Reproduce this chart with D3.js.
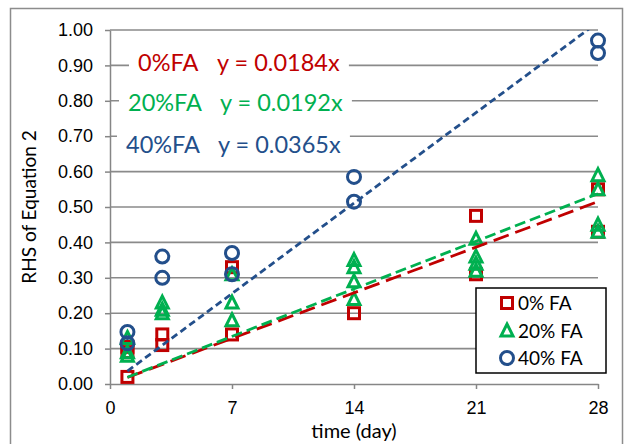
<!DOCTYPE html>
<html>
<head>
<meta charset="utf-8">
<script src="https://cdn.jsdelivr.net/npm/d3@7"></script>
<style>
	body { margin: 0; background: #fff; }
	svg { display: block; font-family: Lato, "Liberation Sans", sans-serif; }
	.axis path, .axis line { stroke: #868686; stroke-width: 1.5; }
	.axis text { fill: #000; font-size: 18px; }
	.grid line { stroke: #8a8a8a; stroke-width: 1.6; }
</style>
</head>
<body>
<svg id="chart" width="627" height="444"></svg>
<script>
/*  RHS of equation 2 against curing time, three fly ash contents  */

var xTicks = [0, 7, 14, 21, 28],
	yTicks = [0, 0.1, 0.2, 0.3, 0.4, 0.5, 0.6, 0.7, 0.8, 0.9, 1.0];

var seriesNames = ['0% FA', '20% FA', '40% FA'],
	labelNames = ['0%FA', '20%FA', '40%FA'],
	slopes = [0.0184, 0.0192, 0.0365],
	colors = ['#c00000', '#00b050', '#234f8b'];

// [day, value] pairs
var fa0 = [[1, 0.02], [1, 0.105], [1, 0.09], [3, 0.14], [3, 0.11],
	[7, 0.33], [7, 0.14], [14, 0.20], [21, 0.475], [21, 0.31],
	[28, 0.55], [28, 0.43]];
var fa20 = [[1, 0.13], [1, 0.09], [1, 0.08], [3, 0.23], [3, 0.21], [3, 0.20],
	[7, 0.31], [7, 0.23], [7, 0.18], [14, 0.35], [14, 0.33], [14, 0.29], [14, 0.24],
	[21, 0.41], [21, 0.36], [21, 0.34], [21, 0.32],
	[28, 0.59], [28, 0.55], [28, 0.45], [28, 0.43]];
var fa40 = [[1, 0.147], [1, 0.115], [3, 0.36], [3, 0.30], [7, 0.37], [7, 0.31],
	[14, 0.585], [14, 0.515], [28, 0.97], [28, 0.935]];

var trendStart = 1, trendEnd = 28;

//- - - - - - - - - - - - - - - - - - - - - - - - - - - - - - - - - - - - - - - 

var svg = d3.select('#chart'),
	plot = { left: 110, right: 598, top: 30, bottom: 384 };

var x = d3.scaleLinear().domain([0, 28]).range([plot.left, plot.right]),
	y = d3.scaleLinear().domain([0, 1]).range([plot.bottom, plot.top]);

// chart frame
svg.append('rect')
	.attr('x', 10.5).attr('y', 8.5)
	.attr('width', 612).attr('height', 460)
	.attr('fill', 'none')
	.attr('stroke', '#8c8c8c')
	.attr('stroke-width', 1.5);

svg.append('clipPath').attr('id', 'plot')
	.append('rect')
	.attr('x', plot.left).attr('y', plot.top)
	.attr('width', plot.right - plot.left).attr('height', plot.bottom - plot.top);

// horizontal gridlines
svg.append('g').attr('class', 'grid')
	.selectAll('line')
	.data(yTicks.slice(1))
	.enter().append('line')
	.attr('x1', plot.left).attr('x2', plot.right)
	.attr('y1', function (d) { return y(d); })
	.attr('y2', function (d) { return y(d); });

svg.append('g').attr('class', 'axis')
	.attr('transform', 'translate(0,' + plot.bottom + ')')
	.call(d3.axisBottom(x).tickValues(xTicks).tickSize(5).tickSizeOuter(0).tickPadding(12));

svg.append('g').attr('class', 'axis')
	.attr('transform', 'translate(' + plot.left + ',0)')
	.call(d3.axisLeft(y).tickValues(yTicks).tickFormat(d3.format('.2f'))
		.tickSize(5).tickSizeOuter(0).tickPadding(12));

// axis titles
svg.append('text')
	.attr('x', 354).attr('y', 438)
	.attr('text-anchor', 'middle')
	.attr('font-size', 20)
	.text('time (day)');

svg.append('text')
	.attr('transform', 'translate(36,' + ((plot.top + plot.bottom) / 2) + ') rotate(-90)')
	.attr('text-anchor', 'middle')
	.attr('font-size', 19)
	.text('RHS of Equation 2');

//- - - - - - - - - - - - - - - - - - - - - - - - - - - - - - - - - - - - - - - 

function marker(sel, kind, color)
{
	if (kind === 0)
		sel.append('rect')
			.attr('x', -5.5).attr('y', -5.5)
			.attr('width', 11).attr('height', 11);
	else if (kind === 1)
		sel.append('path')
			.attr('d', 'M0,-6.5L6,5.5L-6,5.5Z');
	else
		sel.append('circle').attr('r', 6.5);

	sel.selectAll('*')
		.attr('fill', 'none')
		.attr('stroke', color)
		.attr('stroke-width', 3);
}

var series = [fa0, fa20, fa40];

series.forEach(function (data, i)
{
	svg.append('g').attr('class', 'series' + i)
		.selectAll('g')
		.data(data)
		.enter().append('g')
		.attr('transform', function (d) { return 'translate(' + x(d[0]) + ',' + y(d[1]) + ')'; })
		.each(function () { marker(d3.select(this), i, colors[i]); });
});

// trendlines through the origin
var dashes = ['16,7', '11,5', '7,4'];

svg.append('g').attr('clip-path', 'url(#plot)')
	.selectAll('line')
	.data(slopes)
	.enter().append('line')
	.attr('x1', x(trendStart))
	.attr('y1', function (d) { return y(d * trendStart); })
	.attr('x2', x(trendEnd))
	.attr('y2', function (d) { return y(d * trendEnd); })
	.attr('stroke', function (d, i) { return colors[i]; })
	.attr('stroke-width', 2.8)
	.attr('stroke-dasharray', function (d, i) { return dashes[i]; });

//- - - - - - - - - - - - - - - - - - - - - - - - - - - - - - - - - - - - - - - 

// equation labels with white backing
var labelX = [138, 128, 126],
	eqX = [217, 220, 218],
	labelY = [71, 111, 153];

var labels = svg.append('g').attr('font-size', 23.5);

slopes.forEach(function (s, i)
{
	var g = labels.append('g').attr('fill', colors[i]),
		back = g.append('rect').attr('fill', '#fff');

	g.append('text').attr('x', labelX[i]).attr('y', labelY[i]).text(labelNames[i]);
	g.append('text').attr('x', eqX[i]).attr('y', labelY[i]).text('y = ' + s + 'x');

	var box = g.node().getBBox();
	back.attr('x', box.x - 9).attr('y', box.y)
		.attr('width', box.width + 18).attr('height', box.height);
});

// legend
var legend = svg.append('g').attr('transform', 'translate(476,288)');

legend.append('rect')
	.attr('width', 130).attr('height', 85)
	.attr('fill', '#fff')
	.attr('stroke', '#000')
	.attr('stroke-width', 1.5);

var rows = legend.selectAll('g.row')
	.data(seriesNames)
	.enter().append('g').attr('class', 'row')
	.attr('transform', function (d, i) { return 'translate(0,' + (15 + i * 27.5) + ')'; });

rows.each(function (d, i)
{
	marker(d3.select(this).append('g').attr('transform', 'translate(31,0)'), i, colors[i]);
});

rows.append('text')
	.attr('x', 42).attr('y', 7)
	.attr('font-size', 19)
	.text(function (d) { return d; });
</script>
</body>
</html>
